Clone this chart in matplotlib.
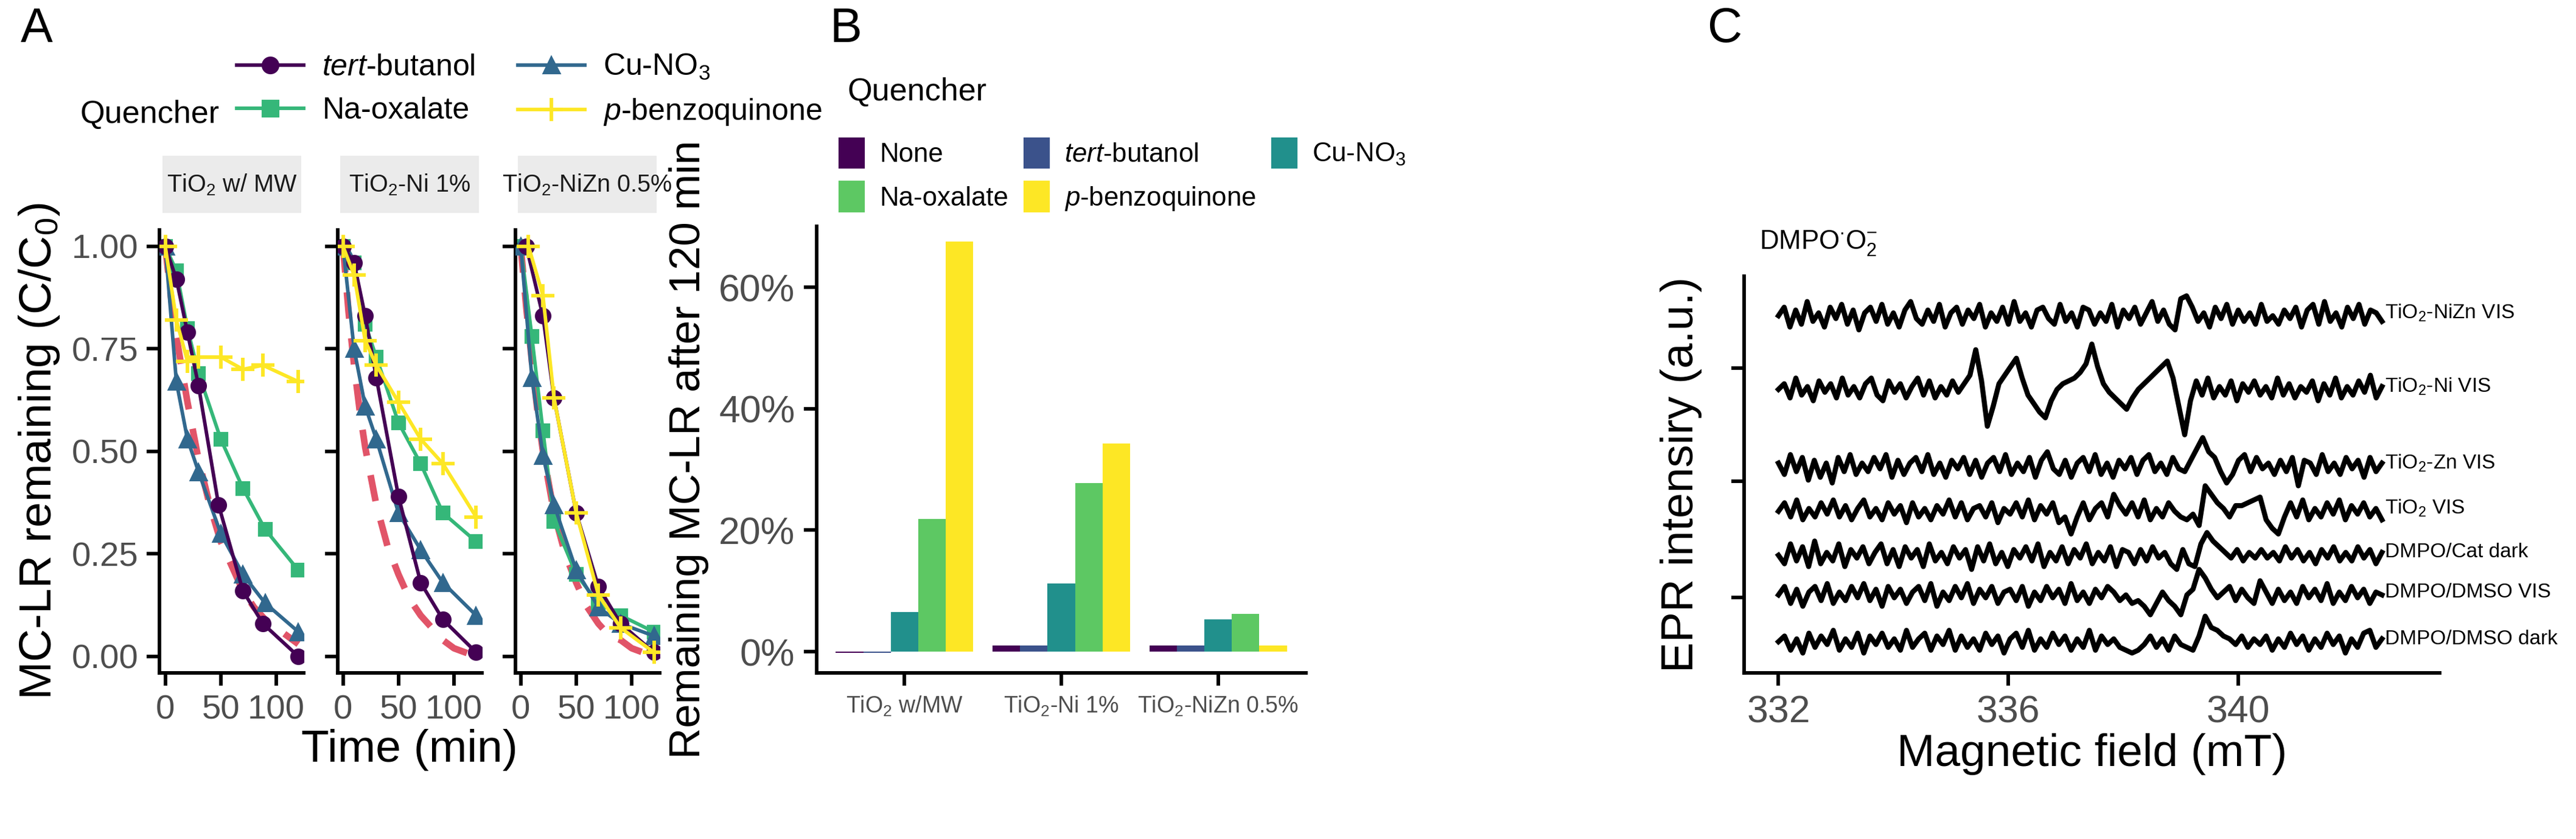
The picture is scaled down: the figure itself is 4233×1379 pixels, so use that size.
import numpy as np
import matplotlib
matplotlib.use("Agg")
import matplotlib.pyplot as plt
from matplotlib.lines import Line2D
from matplotlib.patches import Patch, Rectangle

plt.rcParams.update({
    "font.family": "Liberation Sans",
    "mathtext.fontset": "custom",
    "mathtext.rm": "Liberation Sans",
    "mathtext.it": "Liberation Sans:italic",
    "mathtext.bf": "Liberation Sans:bold",
})

# ---------------- Panel A data ----------------
facets = ["TiO$_2$ w/ MW", "TiO$_2$-Ni 1%", "TiO$_2$-NiZn 0.5%"]
time_std = [0, 10, 20, 30, 50, 70, 90, 120]
tbu_t = [[0, 10, 20, 30, 48, 70, 88, 120], [0, 10, 20, 30, 50, 70, 90, 120], [5, 20, 30, 50, 70, 90, 120]]
tbu_y = [[1.0, 0.92, 0.79, 0.66, 0.37, 0.16, 0.08, 0.0],
         [1.0, 0.96, 0.83, 0.68, 0.39, 0.18, 0.09, 0.01],
         [1.0, 0.83, 0.63, 0.35, 0.17, 0.08, 0.01]]
na_y = [[1.0, 0.94, 0.80, 0.69, 0.53, 0.41, 0.31, 0.21],
        [1.0, 0.96, 0.81, 0.73, 0.57, 0.47, 0.35, 0.28],
        [1.0, 0.78, 0.55, 0.33, 0.20, 0.13, 0.10, 0.06]]
cu_y = [[1.0, 0.67, 0.53, 0.45, 0.30, 0.20, 0.13, 0.06],
        [1.0, 0.75, 0.61, 0.53, 0.35, 0.26, 0.18, 0.10],
        [1.0, 0.68, 0.49, 0.37, 0.21, 0.12, 0.08, 0.05]]
pbq_t = [[0, 10, 20, 30, 50, 70, 88, 120], [0, 10, 20, 30, 50, 70, 90, 120], [7, 20, 30, 50, 70, 90, 120]]
pbq_y = [[1.0, 0.82, 0.72, 0.73, 0.73, 0.70, 0.71, 0.67],
         [1.0, 0.93, 0.77, 0.71, 0.62, 0.53, 0.47, 0.34],
         [1.0, 0.88, 0.63, 0.35, 0.15, 0.07, 0.01]]
none_t = [0, 5, 10, 15, 20, 30, 40, 50, 60, 70, 80, 90, 100, 110, 120]
none_y = [[1.0, 0.88, 0.78, 0.70, 0.62, 0.48, 0.37, 0.28, 0.22, 0.16, 0.12, 0.09, 0.07, 0.05, 0.03],
          [1.0, 0.84, 0.71, 0.60, 0.51, 0.37, 0.27, 0.20, 0.14, 0.10, 0.07, 0.04, 0.02, 0.01, 0.0],
          [1.0, 0.85, 0.72, 0.60, 0.50, 0.35, 0.25, 0.18, 0.12, 0.08, 0.05, 0.04, 0.02, 0.01, 0.01]]

# ---------------- Panel B data ----------------
bar_groups = ["TiO$_2$ w/MW", "TiO$_2$-Ni 1%", "TiO$_2$-NiZn 0.5%"]
bar_none = [-0.2, 1.0, 1.0]
bar_tbu = [-0.2, 1.0, 1.0]
bar_cu = [6.5, 11.2, 5.3]
bar_na = [21.8, 27.8, 6.2]
bar_pbq = [67.5, 34.3, 1.0]

# ---------------- Panel C data (a.u., hand-read) ----------------
epr_labels = ["TiO$_2$-NiZn VIS", "TiO$_2$-Ni VIS", "TiO$_2$-Zn VIS", "TiO$_2$ VIS",
              "DMPO/Cat dark", "DMPO/DMSO VIS", "DMPO/DMSO dark"]
epr_offsets = [126, 100, 73, 57, 41.5, 27.5, 11]
epr_nizn = [0,3,-4,2,-3,5,-2,1,-4,3,-1,4,-3,2,-5,1,3,-2,4,-3,1,-4,2,5,-1,-3,2,-2,4,-4,1,3,-3,2,-1,4,-4,1,-2,3,
            -3,5,-2,1,-4,2,3,-1,-3,4,-2,1,-4,3,2,-3,1,-2,4,-4,2,-1,3,-3,1,5,-2,2,-3,-5,6,7,3,-2,1,-4,3,-1,4,-3,
            2,-2,1,-3,4,-2,0,-3,2,-1,3,-4,2,4,-3,5,-2,1,-4,3,-1,4,-3,2,1,-2]
epr_ni = [0,2,-3,4,-2,1,-4,3,-1,2,-3,4,-2,1,-3,2,4,-2,-4,3,-1,2,-3,1,4,-2,3,-3,1,-2,3,-1,2,
          5,14,3,-13,-6,2,5,8,11,4,-2,-5,-8,-10,-4,0,2,3,4,6,9,16,8,2,-1,-3,-5,-7,-3,0,2,4,6,8,10,4,-6,-16,-4,3,
          -2,4,-3,1,-2,3,-4,2,-1,3,-2,1,-3,4,-2,2,-3,1,-1,3,-4,2,-2,4,-3,1,-2,3,-1,5,-3,1]
epr_zn = [1,-3,4,-2,3,-5,2,-4,1,-6,3,-2,4,-3,1,-2,3,-1,4,-4,2,-3,1,3,-2,4,-3,1,-4,2,-1,3,-3,2,-4,1,3,-2,4,-3,
          1,-2,3,-4,2,5,-1,-3,2,-4,1,3,-2,4,-3,1,-4,2,-1,3,-3,2,4,-2,1,-3,3,-1,-2,2,6,10,5,3,-2,-6,-3,2,4,-2,
          3,-1,1,-3,2,-2,3,-7,2,1,-3,4,-2,1,-3,3,-1,2,-4,3,-2,1]
epr_tio2 = [0,3,-2,4,-3,1,-2,3,-1,4,-2,2,-3,1,4,-2,1,-3,3,-1,2,-4,3,-2,1,-3,2,-1,4,-2,3,-3,1,2,-2,3,-4,1,-1,3,
            -2,4,-3,2,-1,3,-4,-2,-8,-2,3,-3,1,3,-2,6,2,-1,3,-2,4,-3,1,-2,3,0,-2,-3,-1,-5,9,6,3,1,-2,2,2,3,4,5,
            -3,-6,-8,-2,3,-2,4,-3,1,-2,3,-1,4,-3,2,-1,3,-2,1,-3]
epr_cat = [0,-3,4,-2,3,-4,5,-3,1,-2,4,-4,2,-1,3,-3,1,4,-3,2,-4,3,-1,2,-4,4,-2,1,-3,3,-1,2,-5,3,-2,4,-3,1,-4,2,
           -1,3,-2,4,-4,1,-2,3,-3,2,-1,4,-3,1,-2,3,-4,2,1,-3,2,-2,3,-1,1,-3,-5,2,-3,-4,4,8,5,3,1,-1,2,-2,1,-1,
           2,-1,1,-2,3,-1,2,-2,1,-3,2,-1,3,-2,1,-2,3,-1,2,-3,1]
epr_dmso_vis = [0,3,-3,2,-4,1,3,-2,4,-3,1,-2,3,-1,4,-2,2,-4,3,-1,2,-3,1,3,-2,4,-4,1,-2,3,-1,4,-3,2,-1,3,-3,1,2,-2,
                3,-4,1,-2,3,-1,2,-3,4,-2,1,-3,2,-1,3,1,-2,0,-3,-2,-4,-7,-3,1,-2,-4,-7,0,2,9,6,2,-1,1,3,-2,2,-1,
                -3,5,1,-3,2,-2,1,-3,3,-1,2,-2,4,-3,1,-2,3,-1,2,-3,1,0]
epr_dmso_dark = [0,2,-3,1,-4,3,-2,2,-1,4,-3,1,-2,3,-4,2,-1,3,-2,1,-3,4,-2,1,3,-3,2,-1,4,-3,2,-2,1,-3,3,-1,2,-4,1,3,
                 -2,4,-3,1,-2,3,-1,2,-3,1,-2,4,-3,2,-1,1,-2,-3,-4,-3,-1,2,-2,1,-3,2,-1,-2,-3,2,9,5,4,2,1,-1,2,-2,1,-1,
                 2,-3,1,-2,3,-1,2,-3,1,-2,3,-1,2,-4,1,-2,3,4,-2,1]
epr_traces = [epr_nizn, epr_ni, epr_zn, epr_tio2, epr_cat, epr_dmso_vis, epr_dmso_dark]
epr_start, epr_end = 332.0, 342.5

c_tbu = "#440154"
c_na = "#35B779"
c_cu = "#31688E"
c_pbq = "#FDE725"
c_none = "#E15468"
bar_colors = ["#440154", "#3B528B", "#21908C", "#5DC863", "#FDE725"]

fig = plt.figure(figsize=(4233 / 300, 1379 / 300), dpi=300)

def style(ax, size):
    for s in ["top", "right"]:
        ax.spines[s].set_visible(False)
    ax.spines["left"].set_linewidth(1.4)
    ax.spines["bottom"].set_linewidth(1.4)
    ax.tick_params(labelsize=size, colors="black", labelcolor="#4D4D4D", length=5, width=1.4)

# ---------- Panel A ----------
fx = [0.062, 0.131, 0.200]
fw = 0.056
ay0, ah = 0.198, 0.528
for k in range(3):
    ax = fig.add_axes([fx[k], ay0, fw, ah])
    ax.plot(none_t, none_y[k], color=c_none, lw=2.6, ls=(0, (4, 3)), zorder=1)
    ax.plot(time_std, na_y[k], color=c_na, lw=1.4, marker="s", ms=5, zorder=2)
    ax.plot(time_std, cu_y[k], color=c_cu, lw=1.4, marker="^", ms=6, zorder=3)
    ax.plot(tbu_t[k], tbu_y[k], color=c_tbu, lw=1.4, marker="o", ms=5.5, zorder=4)
    ax.plot(pbq_t[k], pbq_y[k], color=c_pbq, lw=1.4, marker="+", ms=9, mew=1.4, zorder=5)
    ax.set_xlim(-5, 125)
    ax.set_ylim(-0.04, 1.04)
    ax.set_xticks([0, 50, 100])
    ax.set_yticks([0, 0.25, 0.5, 0.75, 1.0])
    style(ax, 13.5)
    if k == 0:
        ax.set_yticklabels(["0.00", "0.25", "0.50", "0.75", "1.00"])
        ax.set_ylabel("MC-LR remaining (C/C$_0$)", fontsize=18, labelpad=4)
    else:
        ax.set_yticklabels([])
    if k == 1:
        ax.set_xlabel("Time (min)", fontsize=18, labelpad=1)
    fig.patches.append(Rectangle((fx[k] + 0.001, 0.746), fw - 0.002, 0.068, transform=fig.transFigure,
                                 facecolor="#EBEBEB", edgecolor="none"))
    fig.text(fx[k] + fw / 2, 0.780, facets[k], ha="center", va="center", fontsize=9.5, color="#1A1A1A")

hA = [Line2D([], [], color=c_tbu, marker="o", lw=1.4, ms=6),
      Line2D([], [], color=c_na, marker="s", lw=1.4, ms=6),
      Line2D([], [], color=c_cu, marker="^", lw=1.4, ms=6),
      Line2D([], [], color=c_pbq, marker="+", lw=1.4, ms=9, mew=1.4)]
lA = [r"$\it{tert}$-butanol", "Na-oxalate", "Cu-NO$_3$", r"$\it{p}$-benzoquinone"]
fig.text(0.031, 0.863, "Quencher", fontsize=12.5, va="center")
fig.legend(hA, lA, ncol=2, loc="center left", bbox_to_anchor=(0.092, 0.893), frameon=False,
           fontsize=12, columnspacing=1.4, handlelength=2.2, labelspacing=0.5, handletextpad=0.6,
           borderaxespad=0, borderpad=0)
fig.text(0.008, 0.965, "A", fontsize=19, va="center")

# ---------- Panel B ----------
axb = fig.add_axes([0.317, 0.198, 0.190, 0.532])
xg = np.arange(len(bar_groups))
bw = 0.175
series_b = [bar_none, bar_tbu, bar_cu, bar_na, bar_pbq]
for i, (vals, col) in enumerate(zip(series_b, bar_colors)):
    axb.bar(xg + (i - 2) * bw, vals, width=bw, color=col)
axb.set_xlim(-0.56, 2.56)
axb.set_ylim(-3.5, 70)
axb.set_yticks([0, 20, 40, 60])
axb.set_yticklabels(["0%", "20%", "40%", "60%"])
axb.set_xticks(xg)
axb.set_xticklabels(bar_groups)
style(axb, 15)
axb.tick_params(axis="x", labelsize=9)
axb.set_ylabel("Remaining MC-LR after 120 min", fontsize=17, labelpad=4)
hB = [Patch(color=c) for c in bar_colors]
lB = ["None", r"$\it{tert}$-butanol", "Cu-NO$_3$", "Na-oxalate", r"$\it{p}$-benzoquinone"]
order = [0, 3, 1, 4, 2]
fig.text(0.329, 0.89, "Quencher", fontsize=12.5, va="center")
fig.legend([hB[i] for i in order], [lB[i] for i in order], ncol=3, loc="upper left",
           bbox_to_anchor=(0.326, 0.835), frameon=False, fontsize=10.5, handlelength=0.9,
           handleheight=1.3, columnspacing=0.6, labelspacing=0.55, handletextpad=0.6,
           borderaxespad=0, borderpad=0)
fig.text(0.322, 0.965, "B", fontsize=19, va="center")

# ---------- Panel C ----------
axc = fig.add_axes([0.677, 0.198, 0.27, 0.473])
for tr, off, lab in zip(epr_traces, epr_offsets, epr_labels):
    xs = np.linspace(epr_start, epr_end, len(tr))
    axc.plot(xs, np.array(tr) + off, color="black", lw=2.0)
    axc.text(epr_end + 0.05, off + 1, lab, fontsize=8, va="center", ha="left")
axc.set_xlim(331.4, 343.5)
axc.set_ylim(0, 140)
axc.set_xticks([332, 336, 340])
axc.set_yticks([26.5, 67.5, 107.5])
axc.set_yticklabels([])
style(axc, 15)
axc.set_ylabel("EPR intensiry (a.u.)", fontsize=18, labelpad=8)
axc.set_xlabel("Magnetic field (mT)", fontsize=18, labelpad=1)
fig.text(0.683, 0.71, r"DMPO$^{\bullet}$O$_2^{-}$", fontsize=10.5, va="center")
fig.text(0.663, 0.965, "C", fontsize=19, va="center")

fig.savefig("out.png", dpi=300)
